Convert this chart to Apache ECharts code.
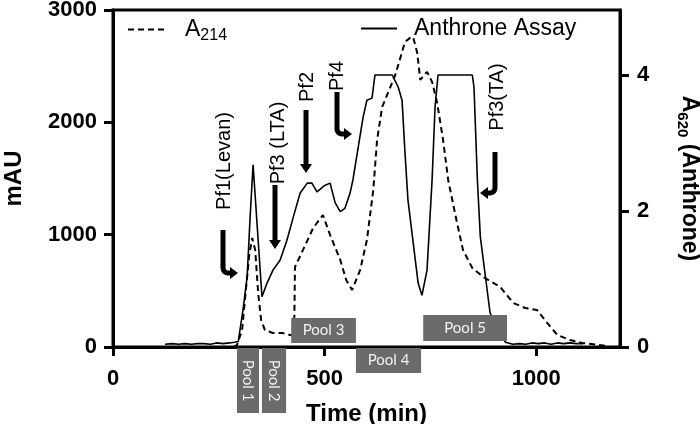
<!DOCTYPE html>
<html><head><meta charset="utf-8">
<script src="https://cdn.jsdelivr.net/npm/echarts@6/dist/echarts.min.js"></script>
<style>html,body{margin:0;padding:0;background:#fff}#c{width:700px;height:424px}</style>
</head><body><div id="c"></div>
<script>
// ---- data ----
const xTicks = [0, 500, 1000];
const leftTicks = [0, 1000, 2000, 3000];
const rightTicks = [0, 2, 4];

const a214Time = [285, 293, 305, 314, 322, 329, 336, 343, 350, 359, 378, 400, 418, 428, 430, 449, 473, 496, 513, 537, 551, 565, 584, 600, 615, 624, 636, 643, 667, 690, 702, 709, 719, 726, 742, 754, 766, 780, 792, 809, 827, 849, 875, 915, 946, 974, 1002, 1026, 1050, 1080, 1109, 1168];
const a214Values = [0, 18, 151, 508, 819, 971, 864, 481, 240, 151, 125, 125, 107, 107, 712, 864, 1060, 1175, 997, 775, 597, 508, 686, 953, 1398, 1843, 2137, 2200, 2422, 2716, 2752, 2760, 2618, 2378, 2449, 2360, 2173, 1843, 1487, 1175, 864, 703, 623, 534, 392, 347, 329, 214, 107, 62, 36, 9];

const anthroneTime = [123, 140, 155, 170, 185, 200, 215, 230, 245, 260, 275, 287, 296, 300, 307, 317, 324, 331, 352, 364, 378, 395, 411, 426, 442, 459, 470, 482, 499, 513, 525, 537, 548, 560, 567, 591, 600, 612, 619, 660, 674, 683, 690, 697, 721, 730, 742, 754, 761, 768, 849, 853, 861, 868, 891, 927, 945, 960, 975, 990, 1005, 1020, 1035, 1050, 1065, 1080, 1095, 1111];
const anthroneValues = [0.04, 0.05, 0.04, 0.05, 0.04, 0.05, 0.05, 0.04, 0.06, 0.05, 0.06, 0.07, 0.08, 0.25, 0.54, 1.03, 1.91, 2.68, 0.74, 0.94, 1.13, 1.28, 1.57, 1.91, 2.26, 2.41, 2.41, 2.28, 2.37, 2.41, 2.12, 1.99, 2.04, 2.26, 2.46, 3.38, 3.63, 3.66, 4.0, 4.0, 3.82, 3.63, 2.85, 2.16, 0.94, 0.76, 1.13, 2.46, 3.53, 4.0, 4.0, 3.82, 2.46, 1.62, 0.5, 0.07, 0.04, 0.05, 0.04, 0.06, 0.05, 0.06, 0.04, 0.06, 0.05, 0.06, 0.05, 0.05];

const poolNames = ['Pool 1', 'Pool 2', 'Pool 3', 'Pool 4', 'Pool 5'];
const poolStart = [293, 352, 421, 574, 733];
const poolEnd = [345, 409, 574, 728, 931];

const peakLabels = ['Pf1(Levan)', 'Pf3 (LTA)', 'Pf2', 'Pf4', 'Pf3(TA)'];

// ---- chart ----
const FONT = '"Liberation Sans", Arial, sans-serif';
const chart = echarts.init(document.getElementById('c'), null, {renderer: 'canvas'});

const a214Data = a214Time.map((t, i) => [t, a214Values[i]]);
const anthData = anthroneTime.map((t, i) => [t, anthroneValues[i]]);
const plain = v => String(v);

const option = {
  backgroundColor: '#fff',
  animation: false,
  grid: {left: 113, right: 80, top: 10, bottom: 77, outerBoundsMode: 'none', containLabel: false,
         show: true, borderColor: '#000', borderWidth: 3, backgroundColor: 'transparent'},
  legend: [
    {data: ['A214'], left: 122, top: 13, itemWidth: 38, itemHeight: 12, itemGap: 0,
     itemStyle: {opacity: 0},
     formatter: () => '{a|A}{s|214}',
     textStyle: {color: '#000', rich: {
       a: {fontFamily: FONT, fontSize: 23, lineHeight: 28, padding: [0, 0, 0, 14], verticalAlign: 'middle', color: '#000'},
       s: {fontFamily: FONT, fontSize: 16, lineHeight: 14, verticalAlign: 'bottom', color: '#000'}}}},
    {data: ['Anthrone Assay'], left: 355, top: 12, itemWidth: 36, itemHeight: 12, itemGap: 0,
     itemStyle: {opacity: 0},
     formatter: '{a|{name}}',
     textStyle: {color: '#000', rich: {
       a: {fontFamily: FONT, fontSize: 23, lineHeight: 28, padding: [0, 0, 0, 12], color: '#000'}}}}
  ],
  xAxis: {
    type: 'value', min: 0, max: 1198,
    name: 'Time (min)', nameLocation: 'middle', nameGap: 55,
    nameTextStyle: {fontFamily: FONT, fontSize: 24, fontWeight: 'bold', color: '#000'},
    axisLine: {show: true, lineStyle: {color: '#000', width: 3}},
    axisTick: {show: true, length: 9, lineStyle: {color: '#000', width: 3}, customValues: xTicks},
    axisLabel: {fontFamily: FONT, fontSize: 22, fontWeight: 'bold', color: '#000', margin: 21, customValues: xTicks, formatter: plain},
    splitLine: {show: false}
  },
  yAxis: [
    {type: 'value', min: 0, max: 3000, interval: 1000, position: 'left',
     name: 'mAU', nameLocation: 'middle', nameGap: 87, nameRotate: 90,
     nameTextStyle: {fontFamily: FONT, fontSize: 24, fontWeight: 'bold', color: '#000'},
     axisLine: {show: true, lineStyle: {color: '#000', width: 3}},
     axisTick: {show: true, length: 9, lineStyle: {color: '#000', width: 3}, customValues: leftTicks},
     axisLabel: {fontFamily: FONT, fontSize: 22, fontWeight: 'bold', color: '#000', margin: 16, customValues: leftTicks, formatter: plain},
     splitLine: {show: false}},
    {type: 'value', min: 0, max: 4.956, position: 'right',
     name: '{a|A}{s|620}{a| (Anthrone)}', nameLocation: 'middle', nameGap: 55, nameRotate: -90,
     nameTextStyle: {color: '#000', rich: {
       a: {fontFamily: FONT, fontSize: 23, fontWeight: 'bold', lineHeight: 28, verticalAlign: 'middle', color: '#000'},
       s: {fontFamily: FONT, fontSize: 15, fontWeight: 'bold', lineHeight: 12, verticalAlign: 'bottom', color: '#000'}}},
     axisLine: {show: true, lineStyle: {color: '#000', width: 3}},
     axisTick: {show: true, length: 9, lineStyle: {color: '#000', width: 3}, customValues: rightTicks},
     axisLabel: {fontFamily: FONT, fontSize: 22, fontWeight: 'bold', color: '#000', margin: 17, customValues: rightTicks, formatter: plain},
     splitLine: {show: false}}
  ],
  series: [
    {name: 'A214', type: 'line', yAxisIndex: 0, data: a214Data, symbol: 'none', smooth: false,
     lineStyle: {color: '#000', width: 2, type: [6, 4]}, itemStyle: {color: '#000'}, z: 3},
    {name: 'Anthrone Assay', type: 'line', yAxisIndex: 1, data: anthData, symbol: 'none', smooth: false,
     lineStyle: {color: '#000', width: 1.6, type: 'solid'}, itemStyle: {color: '#000'}, z: 3}
  ]
};
chart.setOption(option);

// ---- annotations (layout in pixels) ----
const labelPos = [[224, 161], [278, 143], [307, 87], [337, 76], [497, 97]];
const arrowDefs = [
  {x: 223, y0: 230, y1: 273, dir: 'right', tip: 238},
  {x: 275, y0: 185, y1: 249, dir: 'down'},
  {x: 306, y0: 110, y1: 173, dir: 'down'},
  {x: 337, y0: 92, y1: 134, dir: 'right', tip: 352},
  {x: 495, y0: 152, y1: 193, dir: 'left', tip: 480}
];
const poolBoxY = [[348, 413], [348, 413], [318, 343], [348, 373], [315, 341]];

const g = [];
peakLabels.forEach((txt, i) => {
  g.push({type: 'text', x: labelPos[i][0], y: labelPos[i][1], rotation: Math.PI / 2, z: 10,
    style: {text: txt, fontFamily: FONT, fontSize: 20, fill: '#000', align: 'center', verticalAlign: 'middle'}});
});
arrowDefs.forEach(a => {
  if (a.dir === 'down') {
    g.push({type: 'line', z: 10, shape: {x1: a.x, y1: a.y0, x2: a.x, y2: a.y1 - 7}, style: {stroke: '#000', lineWidth: 5}});
    g.push({type: 'polygon', z: 10, shape: {points: [[a.x - 6, a.y1 - 9], [a.x + 6, a.y1 - 9], [a.x, a.y1]]}, style: {fill: '#000'}});
  } else {
    const s = a.dir === 'right' ? 1 : -1;
    const r = 5;
    const hx = a.tip - s * 8;
    const pts = [[a.x, a.y0], [a.x, a.y1 - r]];
    for (let k = 1; k <= 4; k++) {
      const ang = (k / 4) * Math.PI / 2;
      pts.push([a.x + s * r * (1 - Math.cos(ang)), a.y1 - r + r * Math.sin(ang)]);
    }
    pts.push([hx + s, a.y1]);
    g.push({type: 'polyline', z: 10, shape: {points: pts}, style: {stroke: '#000', lineWidth: 5, fill: null, lineJoin: 'round'}});
    g.push({type: 'polygon', z: 10, shape: {points: [[hx, a.y1 - 6], [a.tip, a.y1], [hx, a.y1 + 6]]}, style: {fill: '#000'}});
  }
});
poolNames.forEach((name, i) => {
  const x0 = chart.convertToPixel({xAxisIndex: 0}, poolStart[i]);
  const x1 = chart.convertToPixel({xAxisIndex: 0}, poolEnd[i]);
  const [y0, y1] = poolBoxY[i];
  g.push({type: 'rect', z: 20, shape: {x: x0, y: y0, width: x1 - x0, height: y1 - y0}, style: {fill: '#6b6b6b'}});
  const vertical = (y1 - y0) > (x1 - x0);
  g.push({type: 'text', z: 21, x: (x0 + x1) / 2, y: (y0 + y1) / 2, rotation: vertical ? -Math.PI / 2 : 0,
    style: {text: name, fontFamily: 'Lato, "Open Sans", sans-serif', fontSize: 15, fill: '#f2f2f2', align: 'center', verticalAlign: 'middle'}});
});
chart.setOption({graphic: g});
</script></body></html>
